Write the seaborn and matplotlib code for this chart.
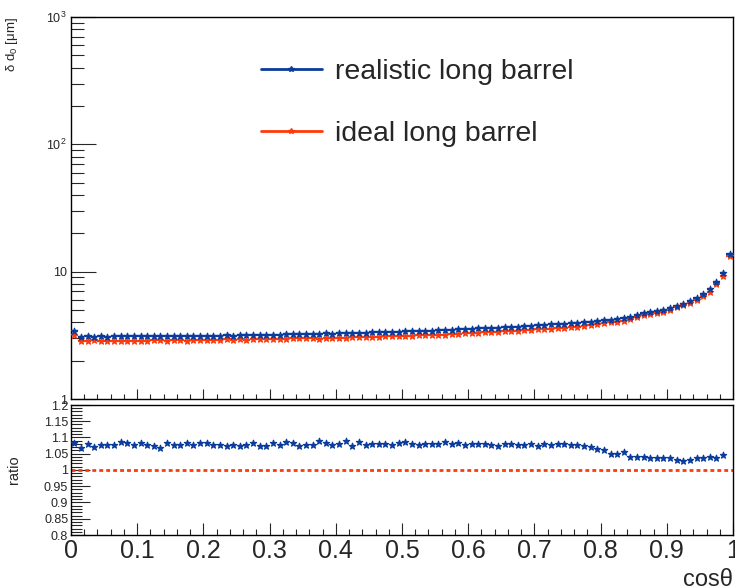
import numpy as np
import pandas as pd
import matplotlib
matplotlib.use("Agg")
import matplotlib.pyplot as plt
from matplotlib.lines import Line2D
from matplotlib.ticker import FixedLocator, FixedFormatter, MultipleLocator, NullFormatter
import seaborn as sns

# ---------------- data ----------------
n_bins = 100
bin_lo, bin_hi = 0.0, 1.0
bin_edges = np.linspace(bin_lo, bin_hi, n_bins + 1)
cos_theta = 0.5 * (bin_edges[:-1] + bin_edges[1:])

realistic = [
    3.45, 3.08, 3.10, 3.09, 3.11, 3.09, 3.10, 3.11, 3.12, 3.10,
    3.11, 3.10, 3.12, 3.11, 3.12, 3.12, 3.13, 3.12, 3.14, 3.13,
    3.14, 3.15, 3.14, 3.16, 3.15, 3.17, 3.16, 3.18, 3.17, 3.20,
    3.21, 3.20, 3.22, 3.23, 3.22, 3.24, 3.25, 3.24, 3.27, 3.26,
    3.28, 3.29, 3.28, 3.31, 3.32, 3.33, 3.34, 3.35, 3.37, 3.38,
    3.40, 3.41, 3.42, 3.44, 3.45, 3.47, 3.48, 3.50, 3.52, 3.54,
    3.56, 3.58, 3.60, 3.62, 3.63, 3.66, 3.68, 3.70, 3.73, 3.76,
    3.79, 3.82, 3.85, 3.88, 3.91, 3.95, 3.98, 4.02, 4.06, 4.10,
    4.15, 4.20, 4.26, 4.33, 4.42, 4.55, 4.72, 4.80, 4.90, 5.03,
    5.14, 5.40, 5.60, 5.86, 6.20, 6.65, 7.26, 8.30, 9.77, 13.7,
]

ideal = [
    3.19, 2.88, 2.87, 2.89, 2.88, 2.87, 2.88, 2.86, 2.88, 2.88,
    2.87, 2.88, 2.90, 2.91, 2.88, 2.89, 2.90, 2.88, 2.91, 2.89,
    2.90, 2.92, 2.91, 2.94, 2.92, 2.95, 2.93, 2.94, 2.95, 2.98,
    2.97, 2.97, 2.97, 2.99, 3.00, 3.01, 3.01, 2.98, 3.02, 3.03,
    3.03, 3.02, 3.06, 3.05, 3.08, 3.08, 3.09, 3.10, 3.13, 3.12,
    3.13, 3.15, 3.17, 3.18, 3.19, 3.21, 3.20, 3.24, 3.25, 3.29,
    3.29, 3.31, 3.33, 3.36, 3.38, 3.39, 3.40, 3.43, 3.46, 3.48,
    3.53, 3.53, 3.57, 3.59, 3.62, 3.66, 3.70, 3.75, 3.79, 3.85,
    3.92, 4.00, 4.06, 4.11, 4.25, 4.37, 4.53, 4.63, 4.73, 4.85,
    4.96, 5.24, 5.45, 5.68, 5.98, 6.41, 6.97, 8.00, 9.33, 13.3,
]

# ratio realistic / ideal (last bin not drawn in the reference)
ratio = [
    1.083, 1.068, 1.079, 1.070, 1.078, 1.078, 1.078, 1.086, 1.082, 1.078,
    1.082, 1.078, 1.074, 1.069, 1.082, 1.078, 1.078, 1.082, 1.078, 1.082,
    1.082, 1.078, 1.078, 1.074, 1.078, 1.074, 1.078, 1.082, 1.074, 1.074,
    1.082, 1.078, 1.086, 1.082, 1.073, 1.078, 1.078, 1.089, 1.083, 1.076,
    1.081, 1.089, 1.073, 1.086, 1.078, 1.081, 1.081, 1.081, 1.076, 1.084,
    1.086, 1.081, 1.078, 1.081, 1.081, 1.081, 1.086, 1.081, 1.084, 1.076,
    1.081, 1.081, 1.081, 1.078, 1.073, 1.081, 1.081, 1.078, 1.078, 1.081,
    1.073, 1.081, 1.078, 1.081, 1.081, 1.078, 1.076, 1.073, 1.070, 1.065,
    1.060, 1.050, 1.050, 1.054, 1.041, 1.041, 1.041, 1.037, 1.037, 1.037,
    1.037, 1.031, 1.027, 1.031, 1.037, 1.037, 1.041, 1.037, 1.047,
]

series_labels = ["realistic long barrel", "ideal long barrel"]
y_tick_values = [1, 10, 100, 1000]
y_tick_labels = ["1", "10", "$10^{2}$", "$10^{3}$"]
ratio_ticks = [0.8, 0.85, 0.9, 0.95, 1.0, 1.05, 1.1, 1.15, 1.2]
ratio_tick_labels = ["0.8", "0.85", "0.9", "0.95", "1", "1.05", "1.1", "1.15", "1.2"]
x_ticks = [0, 0.1, 0.2, 0.3, 0.4, 0.5, 0.6, 0.7, 0.8, 0.9, 1.0]
x_tick_labels = ["0", "0.1", "0.2", "0.3", "0.4", "0.5", "0.6", "0.7", "0.8", "0.9", "1"]

# ---------------- style ----------------
sns.set_theme(style="ticks")
plt.rcParams["font.family"] = ["Liberation Sans", "DejaVu Sans"]
plt.rcParams["mathtext.fontset"] = "custom"
plt.rcParams["mathtext.rm"] = "Liberation Sans"
plt.rcParams["mathtext.it"] = "Liberation Sans:italic"
plt.rcParams["axes.linewidth"] = 1.0

BLUE = "#0b3c9c"
RED = "#ff3a0a"

W, H = 735, 588
fig = plt.figure(figsize=(W / 100, H / 100), dpi=100)
fig.patch.set_facecolor("white")

def rect(x0, y0, x1, y1):
    return [x0 / W, 1 - y1 / H, (x1 - x0) / W, (y1 - y0) / H]

ax = fig.add_axes(rect(71, 17, 733, 399))
axr = fig.add_axes(rect(71, 405, 733, 535))

df = pd.DataFrame({"cos": cos_theta, "realistic": realistic, "ideal": ideal})

# ---------------- top panel ----------------
for col, color in (("ideal", RED), ("realistic", BLUE)):
    ax.errorbar(df["cos"], df[col], xerr=0.005, fmt="none", ecolor=color,
                elinewidth=1.6, capsize=0, zorder=2)
    sns.scatterplot(data=df, x="cos", y=col, ax=ax, color=color, marker="*",
                    s=22, edgecolor=color, linewidth=0.9, zorder=3, legend=False)

ax.set_yscale("log")
ax.set_xlim(0, 1)
ax.set_ylim(1, 1000)
ax.yaxis.set_major_locator(FixedLocator(y_tick_values))
ax.yaxis.set_major_formatter(FixedFormatter(y_tick_labels))
minor = [m * 10 ** d for d in range(0, 3) for m in range(2, 10)]
ax.yaxis.set_minor_locator(FixedLocator(minor))
ax.yaxis.set_minor_formatter(NullFormatter())
ax.xaxis.set_major_locator(FixedLocator(x_ticks))
ax.xaxis.set_minor_locator(MultipleLocator(0.02))
ax.tick_params(axis="x", which="both", labelbottom=False, direction="in")
ax.tick_params(axis="x", which="major", length=7, width=0.8)
ax.tick_params(axis="x", which="minor", length=3.5, width=0.8)
ax.tick_params(axis="y", which="major", direction="in", length=18, width=0.8,
               labelsize=9, pad=3)
ax.tick_params(axis="y", which="minor", direction="in", length=9, width=0.8)
ax.set_xlabel("")
ax.set_ylabel("δ d$_{0}$ [μm]", fontsize=9.5, loc="top")
ax.yaxis.set_label_coords(-0.077, 1.0)

handles = [Line2D([], [], color=BLUE, lw=2, marker="*", markersize=4),
           Line2D([], [], color=RED, lw=2, marker="*", markersize=4)]
ax.legend(handles, series_labels, loc="upper left", bbox_to_anchor=(0.287, 0.889),
          frameon=False, fontsize=20.5, handlelength=2.14, handletextpad=0.46,
          labelspacing=1.26, borderpad=0, borderaxespad=0)

# ---------------- ratio panel ----------------
dr = pd.DataFrame({"cos": cos_theta[:len(ratio)], "ratio": ratio})
axr.axhline(1.0, color=RED, lw=2.0, ls=(0, (1.4, 1.1)), zorder=2)
sns.scatterplot(data=dr, x="cos", y="ratio", ax=axr, color=BLUE, marker="*",
                s=22, edgecolor=BLUE, linewidth=0.9, zorder=3, legend=False)
axr.set_xlim(0, 1)
axr.set_ylim(0.8, 1.2)
axr.yaxis.set_major_locator(FixedLocator(ratio_ticks))
axr.yaxis.set_major_formatter(FixedFormatter(ratio_tick_labels))
axr.yaxis.set_minor_locator(MultipleLocator(0.01))
axr.xaxis.set_major_locator(FixedLocator(x_ticks))
axr.xaxis.set_major_formatter(FixedFormatter(x_tick_labels))
axr.xaxis.set_minor_locator(MultipleLocator(0.02))
axr.tick_params(axis="x", which="major", direction="in", length=8.5, width=0.8,
                labelsize=18, pad=3)
axr.tick_params(axis="x", which="minor", direction="in", length=4.3, width=0.8)
axr.tick_params(axis="y", which="major", direction="in", length=14, width=0.8,
                labelsize=9, pad=2)
axr.tick_params(axis="y", which="minor", direction="in", length=8, width=0.8)
axr.set_ylabel("ratio", fontsize=10.5)
axr.yaxis.set_label_coords(-0.075, 0.5)
axr.set_xlabel("cosθ", fontsize=17, loc="right", labelpad=4)

for a in (ax, axr):
    for s in a.spines.values():
        s.set_visible(True)
        s.set_linewidth(1.0)
        s.set_color("black")

fig.savefig("out.png", dpi=100, facecolor="white")
